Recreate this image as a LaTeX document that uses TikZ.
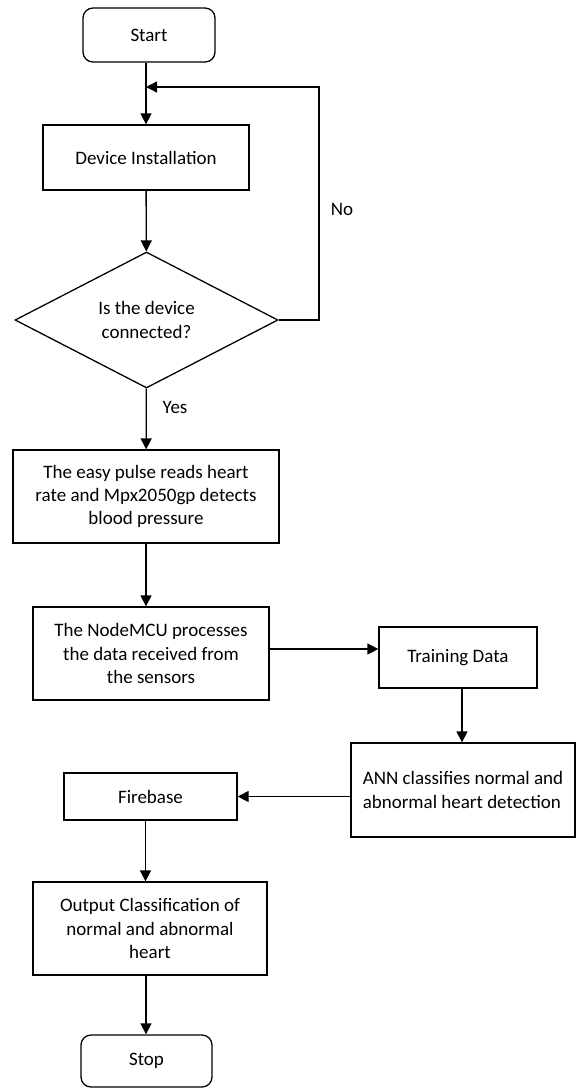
\documentclass[tikz,border=0pt]{standalone}
\usepackage{fontspec}
\setmainfont{Carlito}
\usetikzlibrary{arrows.meta,positioning,shapes.geometric}

\tikzset{
  base/.style={draw, line width=1.3pt, inner sep=2pt, align=center,
    font=\fontsize{19}{23.3}\selectfont},
  terminal/.style={base, rounded corners=10pt},
  process/.style={base},
  decision/.style={base, diamond, inner sep=0pt},
  flow/.style={line width=1.3pt, -{Triangle[length=11pt,width=11pt]}},
  lbl/.style={font=\fontsize{19}{23.3}\selectfont}
}

\begin{document}
\begin{tikzpicture}[x=1pt,y=-1pt]
\useasboundingbox (0,0) rectangle (576,1088);
% Main column
\node[terminal, minimum width=132pt, minimum height=54pt] (start) at (149,35) {Start};
\node[process, minimum width=206pt, minimum height=65pt] (dev) at (146,157.5) {Device Installation};
\node[decision, minimum width=263pt, minimum height=136pt] (conn) at (146.5,320) {Is the device\\connected?};
\node[process, minimum width=266pt, minimum height=93pt] (pulse) at (146,496.5)
	{The easy pulse reads heart\\rate and Mpx2050gp detects\\blood pressure};
\node[process, minimum width=236pt, minimum height=93pt] (mcu) at (151,653.5)
	{The NodeMCU processes\\the data received from\\the sensors};
% Right column
\node[process, minimum width=158pt, minimum height=61pt] (train) at (458,657.5) {Training Data};
\node[process, minimum width=224pt, minimum height=94pt, align=left] (ann) at (463,790)
	{ANN\ classifies normal and\\abnormal heart detection};
% Lower part
\node[process, minimum width=173pt, minimum height=47pt] (fire) at (150.5,796.5) {Firebase};
\node[process, minimum width=234pt, minimum height=93pt] (out) at (150,928.5)
	{Output Classification of\\normal and abnormal\\heart};
\node[terminal, minimum width=131pt, minimum height=52pt] (stop) at (146.5,1061) {Stop};
% Loop back point
\coordinate (join) at (146,87);
\coordinate (loopc) at (319,87);
% Connectors
\draw[flow] (start.south -| dev.north) -- (dev.north);
\draw[flow] (dev) -- (conn);
\draw[flow] (conn.east) -| (loopc) -- (join);
\node[lbl] (no) at (342,209) {No};
\draw[flow] (conn) -- (pulse);
\node[lbl] (yes) at (175,407) {Yes};
\draw[flow] (pulse.south) -- (pulse.south |- mcu.north);
\draw[flow] ([yshift=4.5pt]mcu.east) -- ([yshift=4.5pt]mcu.east -| train.west);
\draw[flow] ([xshift=4pt]train.south) -- ([xshift=4pt]train.south |- ann.north);
\draw[flow] (ann.west |- fire) -- (fire.east);
\draw[flow] ([xshift=-5pt]fire.south) -- ([xshift=-5pt]fire.south |- out.north);
\draw[flow] ([xshift=-4pt]out.south) -- ([xshift=-4pt]out.south |- stop.north);
\end{tikzpicture}
\end{document}
